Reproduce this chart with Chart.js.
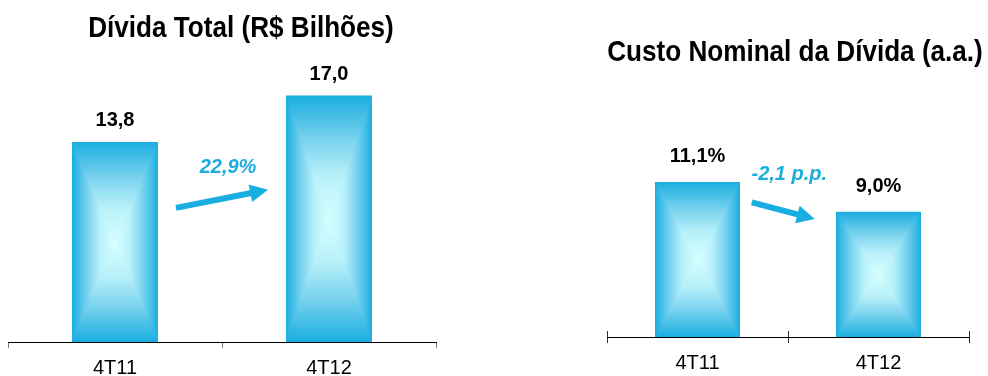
<!DOCTYPE html>
<html><head><meta charset="utf-8">
<script src="https://cdn.jsdelivr.net/npm/chart.js@4"></script>
<style>
html,body{margin:0;padding:0;background:#fff;width:988px;height:376px;overflow:hidden}
#c1{position:absolute;left:0;top:0}
#c2{position:absolute;left:590px;top:0}
</style></head><body>
<canvas id="c1" width="470" height="376"></canvas>
<canvas id="c2" width="398" height="376"></canvas>
<script>
// ---- data ----
const categories = ['4T11', '4T12'];
const debtValues = [13.8, 17.0];
const debtLabels = ['13,8', '17,0'];
const costValues = [11.1, 9.0];
const costLabels = ['11,1%', '9,0%'];
const debtTitle = 'Dívida Total (R$ Bilhões)';
const costTitle = 'Custo Nominal da Dívida (a.a.)';
const debtChange = '22,9%';
const costChange = '-2,1 p.p.';

// ---- styles ----
const EDGE = '#1aaee0';
const FONT = "'Liberation Sans', Arial, Helvetica, sans-serif";
const gradStops = [[0, [214, 255, 255]], [0.35, [184, 240, 249]], [0.65, [120, 210, 238]], [1, [26, 174, 224]]];

function interp(t) {
  for (let i = 1; i < gradStops.length; i++) {
    if (t <= gradStops[i][0]) {
      const a = gradStops[i - 1], b = gradStops[i];
      const f = (t - a[0]) / (b[0] - a[0]);
      return [0, 1, 2].map(k => a[1][k] + (b[1][k] - a[1][k]) * f);
    }
  }
  return gradStops[gradStops.length - 1][1];
}

// rectangular (path) gradient drawn inside each bar element
const rectGradient = {
  id: 'rectGradient',
  afterDatasetsDraw(chart) {
    const ctx = chart.ctx;
    chart.getDatasetMeta(0).data.forEach(el => {
      const p = el.getProps(['x', 'y', 'base', 'width'], true);
      const l = Math.round(p.x - p.width / 2), r = Math.round(p.x + p.width / 2);
      const t = Math.round(Math.min(p.y, p.base)), b = Math.round(Math.max(p.y, p.base));
      const w = r - l, h = b - t;
      if (w <= 0 || h <= 0) return;
      const img = ctx.createImageData(w, h);
      const hw = w / 2, hh = h / 2;
      for (let j = 0; j < h; j++) {
        for (let i = 0; i < w; i++) {
          const dx = Math.abs(i + 0.5 - hw) / hw, dy = Math.abs(j + 0.5 - hh) / hh;
          const c = interp(Math.min(1, Math.max(dx, dy)));
          const o = (j * w + i) * 4;
          img.data[o] = c[0]; img.data[o + 1] = c[1]; img.data[o + 2] = c[2]; img.data[o + 3] = 255;
        }
      }
      ctx.putImageData(img, l, t);
    });
  }
};

// value labels above bars
const valueLabels = {
  id: 'valueLabels',
  afterDatasetsDraw(chart, args, opts) {
    const ctx = chart.ctx;
    ctx.save();
    ctx.font = 'bold 20px ' + FONT;
    ctx.fillStyle = '#000';
    ctx.textAlign = 'center';
    ctx.textBaseline = 'alphabetic';
    chart.getDatasetMeta(0).data.forEach((el, i) => {
      ctx.fillText(opts.labels[i], el.x, el.y - opts.offset);
    });
    ctx.restore();
  }
};

// condensed bold title
const condTitle = {
  id: 'condTitle',
  afterDraw(chart, args, opts) {
    const ctx = chart.ctx;
    ctx.save();
    ctx.font = 'bold 30px ' + FONT;
    ctx.fillStyle = '#000';
    ctx.textAlign = 'center';
    ctx.textBaseline = 'alphabetic';
    ctx.translate(opts.x, opts.y);
    ctx.scale(0.87, 1);
    ctx.fillText(opts.text, 0, 0);
    ctx.restore();
  }
};

// change arrow with text, positioned in scale units
const changeArrow = {
  id: 'changeArrow',
  afterDraw(chart, args, opts) {
    const xs = chart.scales.x, ys = chart.scales.y, ctx = chart.ctx;
    const x0 = xs.getPixelForValue(opts.from[0]), y0 = ys.getPixelForValue(opts.from[1]);
    const x1 = xs.getPixelForValue(opts.to[0]), y1 = ys.getPixelForValue(opts.to[1]);
    const ang = Math.atan2(y1 - y0, x1 - x0);
    const hl = 18, hw = 9;
    const bx = x1 - hl * Math.cos(ang), by = y1 - hl * Math.sin(ang);
    ctx.save();
    ctx.strokeStyle = EDGE; ctx.fillStyle = EDGE;
    ctx.lineWidth = 6; ctx.lineCap = 'butt';
    ctx.beginPath(); ctx.moveTo(x0, y0); ctx.lineTo(bx + Math.cos(ang), by + Math.sin(ang)); ctx.stroke();
    ctx.beginPath();
    ctx.moveTo(x1, y1);
    ctx.lineTo(bx + hw * Math.sin(ang), by - hw * Math.cos(ang));
    ctx.lineTo(bx - hw * Math.sin(ang), by + hw * Math.cos(ang));
    ctx.closePath(); ctx.fill();
    ctx.font = 'italic bold 20px ' + FONT;
    ctx.textAlign = 'center'; ctx.textBaseline = 'alphabetic';
    ctx.fillText(opts.text, xs.getPixelForValue(opts.textAt[0]), ys.getPixelForValue(opts.textAt[1]));
    ctx.restore();
  }
};

// small ticks above the axis line (right chart)
const upTicks = {
  id: 'upTicks',
  afterDraw(chart, args, opts) {
    if (!opts.enabled) return;
    const xs = chart.scales.x, ctx = chart.ctx, b = chart.chartArea.bottom;
    const mid = (xs.getPixelForValue(0) + xs.getPixelForValue(1)) / 2;
    ctx.save();
    ctx.strokeStyle = opts.color; ctx.lineWidth = 1;
    [xs.left, mid, xs.right].forEach(px => {
      const x = Math.round(px) + 0.5;
      ctx.beginPath(); ctx.moveTo(x, b - 6); ctx.lineTo(x, b); ctx.stroke();
    });
    ctx.restore();
  }
};

function makeChart(id, values, cfg) {
  return new Chart(document.getElementById(id), {
    type: 'bar',
    data: {
      labels: categories,
      datasets: [{ data: values, backgroundColor: EDGE, borderWidth: 0, categoryPercentage: 1, barPercentage: cfg.barPct }]
    },
    options: {
      responsive: false, animation: false, devicePixelRatio: 1,
      layout: { padding: cfg.padding },
      plugins: {
        legend: { display: false }, tooltip: { enabled: false }, title: { display: false },
        valueLabels: { labels: cfg.labels, offset: cfg.labelOffset },
        condTitle: cfg.title,
        changeArrow: cfg.arrow,
        upTicks: { enabled: cfg.upTicks, color: cfg.tickColor }
      },
      scales: {
        x: {
          grid: { display: true, drawOnChartArea: false, drawTicks: true, tickLength: 6, color: cfg.tickColor, offset: true },
          border: { display: true, color: '#000', width: 1 },
          ticks: { color: '#000', font: { family: FONT, size: 20 }, padding: 8 },
          afterFit(s) { s.height = cfg.xHeight; }
        },
        y: { display: false, min: 0, max: cfg.yMax }
      }
    },
    plugins: [rectGradient, valueLabels, condTitle, changeArrow, upTicks]
  });
}

makeChart('c1', debtValues, {
  barPct: 0.402, padding: { left: 8, right: 34, top: 52, bottom: 0 }, xHeight: 34, yMax: 20,
  labels: debtLabels, labelOffset: 16, tickColor: '#7a7a7a', upTicks: false,
  title: { text: debtTitle, x: 241, y: 37 },
  arrow: { from: [0.285, 9.25], to: [0.715, 10.5], text: debtChange, textAt: [0.528, 11.67] }
});

makeChart('c2', costValues, {
  barPct: 0.465, padding: { left: 17, right: 19, top: 142, bottom: 0 }, xHeight: 39, yMax: 14,
  labels: costLabels, labelOffset: 20, tickColor: '#333', upTicks: true,
  title: { text: costTitle, x: 205, y: 61 },
  arrow: { from: [0.30, 9.66], to: [0.648, 8.47], text: costChange, textAt: [0.507, 11.29] }
});
</script>
</body></html>
